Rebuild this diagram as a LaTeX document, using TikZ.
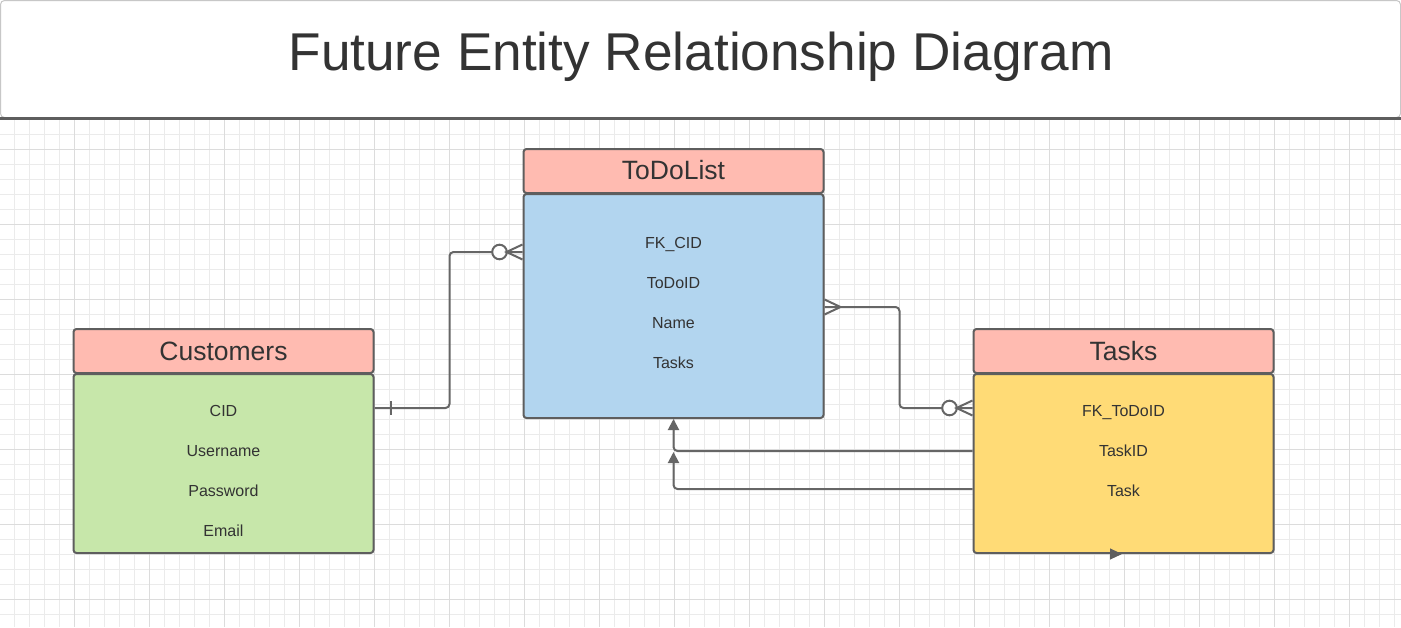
\documentclass[tikz,border=0pt]{standalone}
\usepackage{fontspec}
\setmainfont{Liberation Sans}
\usetikzlibrary{arrows.meta,calc}
\definecolor{txt}{HTML}{333333}
\definecolor{bordc}{HTML}{5E5E5E}
\definecolor{connc}{HTML}{666666}
\definecolor{hdrc}{HTML}{FFBBB1}
\definecolor{greenc}{HTML}{C7E7AA}
\definecolor{bluec}{HTML}{B2D5EF}
\definecolor{yellowc}{HTML}{FFDB76}
\definecolor{minorc}{HTML}{EBEBEB}
\definecolor{majorc}{HTML}{DCDCDC}
\tikzset{
  hdr/.style={draw=bordc, fill=hdrc, line width=2pt, rounded corners=3pt,
    minimum width=300pt, minimum height=44pt, inner sep=0pt},
  bodybox/.style={draw=bordc, line width=2pt, rounded corners=3pt,
    minimum width=300pt, inner sep=0pt},
  hdrtext/.style={anchor=base, text=txt, font=\fontsize{26.5}{30}\selectfont, inner sep=0pt},
  rowtext/.style={anchor=base, text=txt, font=\fontsize{16}{19}\selectfont, inner sep=0pt},
  conn/.style={draw=connc, line width=2pt, rounded corners=4pt},
  tick/.style={draw=connc, line width=2pt},
  arr/.style={draw=connc, line width=2pt, rounded corners=4pt, -{Triangle[length=11pt,width=11pt]}},
  minorgrid/.style={draw=minorc, line width=1pt},
  majorgrid/.style={draw=majorc, line width=1pt}
}
\begin{document}
\begin{tikzpicture}[x=1pt,y=-1pt]
\useasboundingbox (0,0) rectangle (1401,627);
\fill[white] (0,0) rectangle (1401,627);
% grid
\foreach \i in {0,...,93} \draw[minorgrid] (\i*15-0.3,119) -- (\i*15-0.3,627);
\foreach \j in {0,...,33} \draw[minorgrid] (0,119+\j*15) -- (1401,119+\j*15);
\foreach \i in {1,...,18} \draw[majorgrid] (\i*75-0.3,119) -- (\i*75-0.3,627);
\foreach \j in {0,...,6} \draw[majorgrid] (0,149+\j*75) -- (1401,149+\j*75);
% title
\node[draw=black!22, fill=white, line width=1pt, rounded corners=4pt, minimum width=1400pt, minimum height=117pt, inner sep=0pt] (titlebox) at (700.5,59) {};
\draw[draw=bordc, line width=2.5pt] ([yshift=-0.5pt]titlebox.south west) -- ([yshift=-0.5pt]titlebox.south east);
\node[anchor=base, text=txt, font=\fontsize{53.2}{60}\selectfont, inner sep=0pt] (title) at (701,70) {Future Entity Relationship Diagram};
% Customers
\node[hdr] (custhead) at (223.5,351) {};
\node[bodybox, fill=greenc, minimum height=179pt] (custbody) at (223.5,463.5) {};
\node[hdrtext] (custname) at (223.5,360) {Customers};
\node[rowtext] (c1) at (223.5,416) {CID};
\node[rowtext] (c2) at (223.5,456) {Username};
\node[rowtext] (c3) at (223.5,496) {Password};
\node[rowtext] (c4) at (223.5,536) {Email};
% ToDoList
\node[hdr] (todohead) at (673.5,171) {};
\node[bodybox, fill=bluec, minimum height=224pt] (todobody) at (673.5,306) {};
\node[hdrtext] (todoname) at (673.5,179.5) {ToDoList};
\node[rowtext] (t1) at (673.5,248) {FK\_CID};
\node[rowtext] (t2) at (673.5,288) {ToDoID};
\node[rowtext] (t3) at (673.5,328) {Name};
\node[rowtext] (t4) at (673.5,368) {Tasks};
% Tasks
\node[hdr] (taskhead) at (1123.5,351) {};
\node[bodybox, fill=yellowc, minimum height=179pt] (taskbody) at (1123.5,463.5) {};
\node[hdrtext] (taskname) at (1123.5,360) {Tasks};
\node[rowtext] (k1) at (1123.5,416) {FK\_ToDoID};
\node[rowtext] (k2) at (1123.5,456) {TaskID};
\node[rowtext] (k3) at (1123.5,496) {Task};
% connection points
\coordinate (custR) at ([yshift=55.5pt]custbody.east);
\coordinate (todoL) at ([yshift=54pt]todobody.west);
\coordinate (todoR) at ([yshift=-1pt]todobody.east);
\coordinate (taskL) at ([yshift=55.5pt]taskbody.west);
\coordinate (taskL2) at ([yshift=12.5pt]taskbody.west);
\coordinate (taskL3) at ([yshift=-25.5pt]taskbody.west);
\coordinate (join) at (taskL2 -| todobody.south);
% Customers -> ToDoList (one to zero-or-many)
\draw[conn] (custR) -- ++(75,0) |- (todoL);
\draw[tick] ([xshift=16pt,yshift=7pt]custR) -- ([xshift=16pt,yshift=-7pt]custR);
\draw[tick, fill=white] ([xshift=-23pt]todoL) circle (7.3pt);
\draw[tick] ([yshift=7.5pt]todoL) -- ([xshift=-16pt]todoL) -- ([yshift=-7.5pt]todoL);
% ToDoList -> Tasks (many to zero-or-many)
\draw[conn] (todoR) -- ++(75,0) |- (taskL);
\draw[tick] ([yshift=7.5pt]todoR) -- ([xshift=16pt]todoR) -- ([yshift=-7.5pt]todoR);
\draw[tick, fill=white] ([xshift=-23pt]taskL) circle (7.3pt);
\draw[tick] ([yshift=7.5pt]taskL) -- ([xshift=-16pt]taskL) -- ([yshift=-7.5pt]taskL);
% Tasks -> ToDoList arrows
\draw[arr] (taskL2) -| (todobody.south);
\draw[arr] (taskL3) -| ([yshift=-1pt]join);
% small arrowhead on Tasks bottom
\draw[draw=bordc, line width=1pt, -{Triangle[length=12pt,width=11pt]}] ([xshift=-14pt]taskbody.south) -- ([xshift=-1.5pt]taskbody.south);
\end{tikzpicture}
\end{document}
